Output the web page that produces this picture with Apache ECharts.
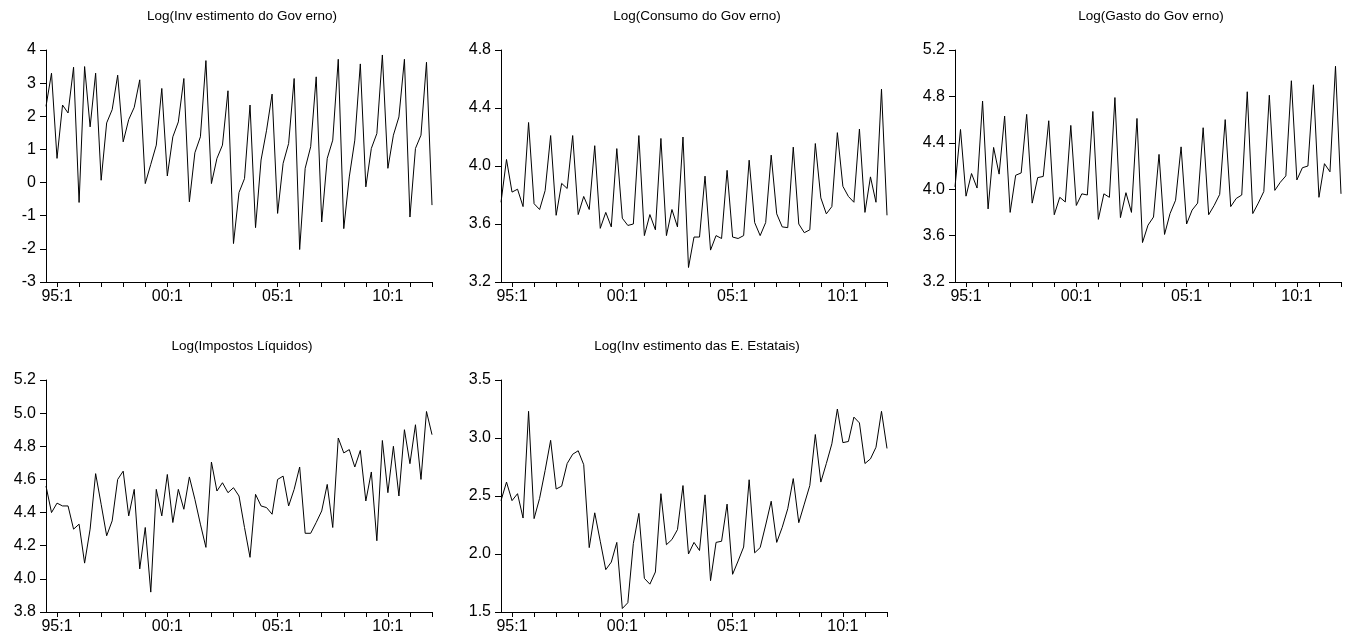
<!DOCTYPE html>
<html>
<head>
<meta charset="utf-8">
<script src="https://cdn.jsdelivr.net/npm/echarts@6/dist/echarts.min.js"></script>
<style>
  html, body { margin: 0; padding: 0; background: #fff; }
  #chart { width: 1353px; height: 643px; }
</style>
</head>
<body>
<div id="chart"></div>
<script>
// quarters 94:3 .. 12:1
var quarters = [];
for (var y = 1994; y <= 2012; y++) {
  for (var q = 1; q <= 4; q++) {
    if ((y === 1994 && q < 3) || (y === 2012 && q > 1)) continue;
    quarters.push(String(y % 100).padStart(2, '0') + ':' + q);
  }
}

var investGov = [2.3, 3.3, 0.73, 2.34, 2.1, 3.48, -0.6, 3.5, 1.68, 3.3,
  0.07, 1.8, 2.2, 3.24, 1.23, 1.9, 2.27, 3.1, -0.03, 0.55,
  1.13, 2.84, 0.2, 1.38, 1.83, 3.14, -0.58, 0.9, 1.38, 3.68,
  -0.03, 0.73, 1.13, 2.77, -1.84, -0.3, 0.12, 2.34, -1.36, 0.68,
  1.58, 2.67, -0.93, 0.58, 1.18, 3.14, -2.02, 0.43, 1.08, 3.19,
  -1.19, 0.73, 1.28, 3.72, -1.39, 0.17, 1.28, 3.58, -0.13, 1.03,
  1.48, 3.85, 0.43, 1.43, 1.98, 3.72, -1.04, 1.03, 1.43, 3.63, -0.68];

var consumoGov = [3.75, 4.045, 3.82, 3.84, 3.72, 4.3, 3.74, 3.7, 3.83, 4.21,
  3.66, 3.88, 3.845, 4.21, 3.665, 3.79, 3.7, 4.14, 3.57, 3.68,
  3.58, 4.12, 3.64, 3.59, 3.6, 4.21, 3.52, 3.665, 3.56, 4.19,
  3.52, 3.7, 3.58, 4.2, 3.3, 3.51, 3.51, 3.93, 3.42, 3.52,
  3.5, 3.97, 3.51, 3.5, 3.52, 4.04, 3.61, 3.52, 3.61, 4.075,
  3.67, 3.58, 3.575, 4.13, 3.6, 3.54, 3.56, 4.155, 3.78, 3.67,
  3.72, 4.23, 3.86, 3.79, 3.75, 4.255, 3.68, 3.925, 3.75, 4.53, 3.66];

var gastoGov = [4.02, 4.515, 3.94, 4.135, 4.01, 4.76, 3.83, 4.36, 4.13, 4.63,
  3.8, 4.12, 4.14, 4.645, 3.88, 4.1, 4.11, 4.59, 3.78, 3.93,
  3.89, 4.55, 3.86, 3.96, 3.95, 4.67, 3.74, 3.96, 3.93, 4.79,
  3.755, 3.97, 3.8, 4.61, 3.54, 3.69, 3.76, 4.3, 3.61, 3.79,
  3.905, 4.365, 3.7, 3.82, 3.88, 4.53, 3.78, 3.86, 3.955, 4.6,
  3.85, 3.92, 3.95, 4.84, 3.79, 3.88, 3.98, 4.81, 3.99, 4.06,
  4.115, 4.935, 4.08, 4.185, 4.2, 4.9, 3.93, 4.22, 4.15, 5.06, 3.96];

var impostos = [4.56, 4.4, 4.457, 4.44, 4.44, 4.3, 4.33, 4.095, 4.3, 4.635,
  4.45, 4.26, 4.35, 4.6, 4.65, 4.38, 4.54, 4.06, 4.31, 3.92,
  4.54, 4.38, 4.63, 4.34, 4.54, 4.42, 4.615, 4.48, 4.33, 4.19,
  4.705, 4.53, 4.58, 4.52, 4.55, 4.5, 4.31, 4.13, 4.51, 4.44,
  4.43, 4.39, 4.6, 4.62, 4.44, 4.54, 4.675, 4.275, 4.275, 4.34,
  4.41, 4.57, 4.31, 4.85, 4.76, 4.78, 4.675, 4.775, 4.47, 4.645,
  4.23, 4.835, 4.52, 4.8, 4.5, 4.9, 4.695, 4.93, 4.6, 5.01, 4.87];

var investEstatais = [2.46, 2.62, 2.46, 2.52, 2.31, 3.23, 2.305, 2.48, 2.72, 2.98,
  2.56, 2.585, 2.78, 2.86, 2.89, 2.77, 2.055, 2.355, 2.11, 1.865,
  1.93, 2.1, 1.53, 1.58, 2.09, 2.35, 1.79, 1.74, 1.845, 2.52,
  2.08, 2.125, 2.21, 2.59, 2.0, 2.1, 2.03, 2.51, 1.77, 2.1,
  2.11, 2.43, 1.825, 1.94, 2.06, 2.64, 2.01, 2.055, 2.25, 2.455,
  2.1, 2.23, 2.39, 2.65, 2.27, 2.43, 2.59, 3.03, 2.62, 2.78,
  2.95, 3.25, 2.96, 2.97, 3.18, 3.13, 2.78, 2.82, 2.92, 3.23, 2.91];

var titles = ['Log(Inv estimento do Gov erno)', 'Log(Consumo do Gov erno)', 'Log(Gasto do Gov erno)',
  'Log(Impostos Líquidos)', 'Log(Inv estimento das E. Estatais)'];
var yMin = [-3, 3.2, 3.2, 3.8, 1.5];
var yMax = [4, 4.8, 5.2, 5.2, 3.5];
var yStep = [1, 0.4, 0.4, 0.2, 0.5];
var yDigits = [0, 1, 1, 1, 1];
var allSeries = [investGov, consumoGov, gastoGov, impostos, investEstatais];

var font = 'Liberation Sans, Arial, sans-serif';
var lefts = [46, 501, 955, 46, 501];
var tops = [50, 50, 50, 380, 380];
var gridW = 386, gridH = 232;

var grids = [], xAxes = [], yAxes = [], series = [], titleList = [];
for (var k = 0; k < 5; k++) {
  grids.push({ left: lefts[k], top: tops[k], width: gridW, height: gridH });
  titleList.push({
    text: titles[k],
    left: lefts[k] + gridW / 2 - 2,
    top: tops[k] - 46,
    textAlign: 'center',
    textStyle: { fontFamily: font, fontSize: 13.5, fontWeight: 'normal', color: '#000' }
  });
  xAxes.push({
    type: 'category', gridIndex: k, data: quarters, boundaryGap: false,
    axisLine: { onZero: false, lineStyle: { color: '#000', width: 1 } },
    axisTick: { show: true, length: 5, interval: function (i) { return i % 4 === 2; }, lineStyle: { color: '#000' } },
    axisLabel: {
      interval: function (i) { return i % 20 === 2; },
      color: '#000', fontFamily: font, fontSize: 16, margin: 7
    },
    splitLine: { show: false }
  });
  (function (d) {
    yAxes.push({
      type: 'value', gridIndex: k, min: yMin[k], max: yMax[k], interval: yStep[k],
      axisLine: { show: true, onZero: false, lineStyle: { color: '#000', width: 1 } },
      axisTick: { show: true, length: 6, lineStyle: { color: '#000' } },
      axisLabel: {
        color: '#000', fontFamily: font, fontSize: 16, margin: 10,
        formatter: function (v) { return v.toFixed(d); }
      },
      splitLine: { show: false }
    });
  })(yDigits[k]);
  series.push({
    type: 'line', xAxisIndex: k, yAxisIndex: k, data: allSeries[k],
    showSymbol: false, silent: true, animation: false,
    lineStyle: { color: '#000', width: 1 }
  });
}

var myChart = echarts.init(document.getElementById('chart'));
myChart.setOption({
  backgroundColor: '#fff',
  animation: false,
  title: titleList,
  grid: grids,
  xAxis: xAxes,
  yAxis: yAxes,
  series: series
});
</script>
</body>
</html>
